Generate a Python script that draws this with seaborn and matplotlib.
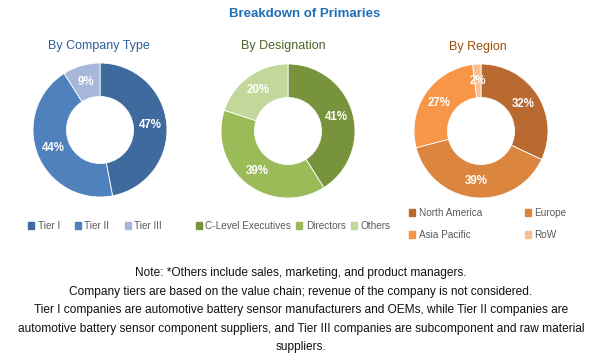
import matplotlib
matplotlib.use("Agg")
import numpy as np
import matplotlib.pyplot as plt
import matplotlib.patches as mpatches
import seaborn as sns

# data
company_labels = ["Tier I", "Tier II", "Tier III"]
company_values = [47, 44, 9]
company_colors = ["#3e6a9e", "#4f81bd", "#a7b7da"]

designation_labels = ["C-Level Executives", "Directors", "Others"]
designation_values = [41, 39, 20]
designation_colors = ["#77933c", "#9bbb59", "#c4d79b"]

region_labels = ["North America", "Europe", "Asia Pacific", "RoW"]
region_values = [32, 39, 27, 2]
region_colors = ["#b86a30", "#dc853f", "#f79646", "#f9bf92"]

note_lines = [
    "Note: *Others include sales, marketing, and product managers.",
    "Company tiers are based on the value chain; revenue of the company is not considered.",
    "Tier I companies are automotive battery sensor manufacturers and OEMs, while Tier II companies are",
    "automotive battery sensor component suppliers, and Tier III companies are subcomponent and raw material",
    "suppliers.",
]

sns.set_theme(style="white")
plt.rcParams["font.family"] = ["Liberation Sans", "DejaVu Sans"]

W, H = 602, 358
fig = plt.figure(figsize=(W / 100, H / 100), dpi=100)
fig.patch.set_facecolor("white")


def donut(cx, cy, r, values, colors):
    ax = fig.add_axes([(cx - r) / W, (H - cy - r) / H, 2 * r / W, 2 * r / H])
    wedges, _ = ax.pie(values, colors=colors, startangle=90, counterclock=False,
                       radius=1, wedgeprops=dict(width=0.5, edgecolor="white", linewidth=0.6))
    for w, v in zip(wedges, values):
        ang = np.deg2rad((w.theta1 + w.theta2) / 2)
        ax.text(0.75 * np.cos(ang), 0.75 * np.sin(ang), f"{v}%", ha="center", va="center",
                color="white", fontsize=8.3, fontweight="bold")
    ax.set_xlim(-1, 1)
    ax.set_ylim(-1, 1)
    ax.set_aspect("equal")
    ax.axis("off")
    return ax


donut(100, 130, 67, company_values, company_colors)
donut(288, 131, 67, designation_values, designation_colors)
donut(481, 131, 67, region_values, region_colors)

# titles
fig.text(305 / W, 1 - 14 / H, "Breakdown of Primaries", ha="center", va="center",
         fontsize=9.5, fontweight="bold", color="#1f6fb8")
fig.text(99 / W, 1 - 46 / H, "By Company Type", ha="center", va="center",
         fontsize=9, color="#2f5f98")
fig.text(283 / W, 1 - 46 / H, "By Designation", ha="center", va="center",
         fontsize=9, color="#4f6228")
fig.text(478 / W, 1 - 47 / H, "By Region", ha="center", va="center",
         fontsize=9, color="#a04e0c")


def make_handles(labels, colors):
    return [mpatches.Patch(color=c, label=l) for l, c in zip(labels, colors)]


leg_kw = dict(frameon=False, fontsize=7.2, handlelength=0.6, handleheight=0.6,
              handletextpad=0.35, labelcolor="#595959", borderaxespad=0, borderpad=0)

fig.legend(handles=make_handles(company_labels, company_colors), ncol=3,
           loc="center", bbox_to_anchor=(95 / W, 1 - 226 / H), columnspacing=1.5, **leg_kw)
fig.legend(handles=make_handles(designation_labels, designation_colors), ncol=3,
           loc="center", bbox_to_anchor=(293 / W, 1 - 226 / H), columnspacing=0.5, **leg_kw)
order = [0, 2, 1, 3]
fig.legend(handles=[make_handles(region_labels, region_colors)[i] for i in order], ncol=2,
           loc="center", bbox_to_anchor=(488 / W, 1 - 224 / H), columnspacing=4.3,
           labelspacing=1.2, **leg_kw)

# note
for i, line in enumerate(note_lines):
    fig.text(0.5, 1 - (273 + i * 18.6) / H, line, ha="center", va="center",
             fontsize=8.6, color="#111111")

fig.savefig("out.png", dpi=100, facecolor="white")
